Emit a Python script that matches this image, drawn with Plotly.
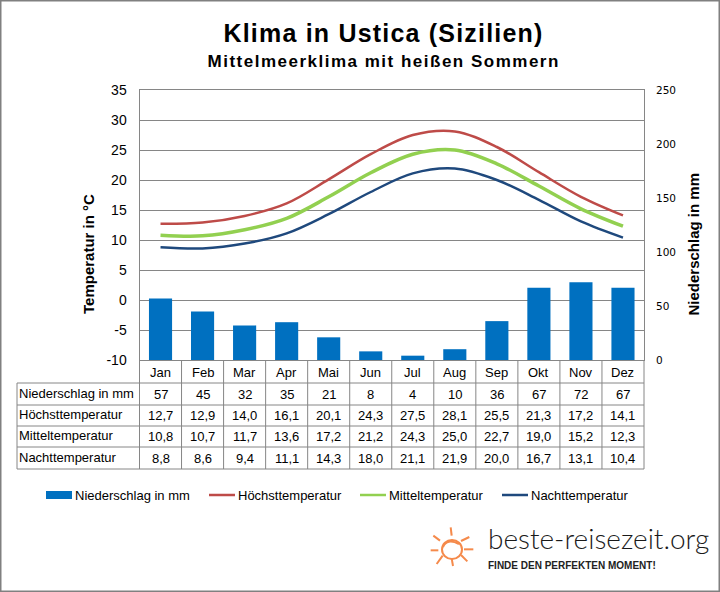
import plotly.graph_objects as go

months = ["Jan", "Feb", "Mar", "Apr", "Mai", "Jun", "Jul", "Aug", "Sep", "Okt", "Nov", "Dez"]
niederschlag = [57, 45, 32, 35, 21, 8, 4, 10, 36, 67, 72, 67]
hoechst = [12.7, 12.9, 14.0, 16.1, 20.1, 24.3, 27.5, 28.1, 25.5, 21.3, 17.2, 14.1]
mittel = [10.8, 10.7, 11.7, 13.6, 17.2, 21.2, 24.3, 25.0, 22.7, 19.0, 15.2, 12.3]
nacht = [8.8, 8.6, 9.4, 11.1, 14.3, 18.0, 21.1, 21.9, 20.0, 16.7, 13.1, 10.4]
temp_ticks = [-10, -5, 0, 5, 10, 15, 20, 25, 30, 35]
temp_labels = ["-10", "-5", "0", "5", "10", "15", "20", "25", "30", "35"]

W, H = 720, 592
FONT = "Liberation Sans"
GRAY = "#868686"
BLUE, RED, GREEN, NAVY = "#0070C0", "#BE4B48", "#92D050", "#1F497D"

# Pixelmasse der Vorlage
plot_l, plot_r, plot_t, plot_b = 139.5, 644, 90, 360
table_l = 17
row_y = [360, 383, 405, 426, 447, 469]


def px(x):
    return x / W


def py(y):
    return 1 - y / H


fig = go.Figure()
fig.add_trace(go.Bar(x=months, y=niederschlag, name="Niederschlag in mm", yaxis="y2",
                     marker=dict(color=BLUE, line=dict(width=0)), width=0.55))
fig.add_trace(go.Scatter(x=months, y=hoechst, name="Höchsttemperatur", mode="lines",
                         line=dict(color=RED, width=2.5, shape="spline", smoothing=1)))
fig.add_trace(go.Scatter(x=months, y=mittel, name="Mitteltemperatur", mode="lines",
                         line=dict(color=GREEN, width=3.5, shape="spline", smoothing=1)))
fig.add_trace(go.Scatter(x=months, y=nacht, name="Nachttemperatur", mode="lines",
                         line=dict(color=NAVY, width=2.5, shape="spline", smoothing=1)))

shapes = []
annotations = []


def seg(x0, y0, x1, y1, color=GRAY, width=1):
    shapes.append(dict(type="line", xref="paper", yref="paper", x0=px(x0), x1=px(x1),
                       y0=py(y0), y1=py(y1), line=dict(color=color, width=width)))


def label(x, y, text, size=13, bold=False, anchor="center", family=FONT, color="black", weight=None, angle=0):
    annotations.append(dict(xref="paper", yref="paper", x=px(x), y=py(y), text=text,
                            showarrow=False, xanchor=anchor, yanchor="middle", textangle=angle,
                            font=dict(family=family, size=size, color=color,
                                      weight=weight if weight else (700 if bold else 400))))


# Tabelle unter dem Diagramm
col_w = (plot_r - plot_l) / 12
for y in row_y[1:]:
    seg(table_l, y, plot_r, y)
seg(table_l, row_y[1], table_l, row_y[-1])
seg(plot_l, row_y[0], plot_l, row_y[-1])
for i in range(1, 13):
    seg(plot_l + i * col_w, row_y[0], plot_l + i * col_w, row_y[-1])

rows = [("Niederschlag in mm", [str(v) for v in niederschlag]),
        ("Höchsttemperatur", [f"{v:.1f}".replace(".", ",") for v in hoechst]),
        ("Mitteltemperatur", [f"{v:.1f}".replace(".", ",") for v in mittel]),
        ("Nachttemperatur", [f"{v:.1f}".replace(".", ",") for v in nacht])]
for i, m in enumerate(months):
    label(plot_l + (i + 0.5) * col_w, 372, m)
for r, (name, vals) in enumerate(rows):
    yc = (row_y[r + 1] + row_y[r + 2]) / 2
    label(17, yc - 1, name, anchor="left")
    for i, v in enumerate(vals):
        label(plot_l + (i + 0.5) * col_w, yc, v)

# Titel und Achsentitel
label(383.5, 33, "Klima in Ustica (Sizilien)", size=25, bold=True)
label(383.5, 62, "Mittelmeerklima mit heißen Sommern", size=17, bold=True)
label(88, 254, "Temperatur in °C", size=15, bold=True, angle=-90)
label(693, 244.5, "Niederschlag in mm", size=15, bold=True, angle=-90)

# Legende von Hand, wegen der breiten Balkenmarke
shapes.append(dict(type="rect", xref="paper", yref="paper", x0=px(46), x1=px(72), y0=py(499), y1=py(491),
                   fillcolor=BLUE, line=dict(width=0)))
label(73, 495, "Niederschlag in mm", anchor="left")
for x0, name, col in [(209, "Höchsttemperatur", RED), (360, "Mitteltemperatur", GREEN), (502, "Nachttemperatur", NAVY)]:
    seg(x0, 495, x0 + 26, 495, col, 2.5)
    label(x0 + 27, 495, name, anchor="left")

# Logo
ORANGE = "#F58A4B"
rays = [(272, 172, 275, 197), (303, 213, 328, 201), (312, 238, 340, 238), (303, 255, 322, 274),
        (275, 265, 279, 288), (248, 257, 230, 282), (235, 241, 212, 241), (240, 212, 220, 197)]
for x0, y0, x1, y1 in rays:
    seg(360 + x0 / 3, 470 + y0 / 3, 360 + x1 / 3, 470 + y1 / 3, ORANGE, 2)
shapes.append(dict(type="circle", xref="paper", yref="paper",
                   x0=px(442), x1=px(462), y0=py(559), y1=py(540),
                   line=dict(color=ORANGE, width=2)))
shapes.append(dict(type="path", xref="paper", yref="paper",
                   path=f"M {px(443)} {py(547)} Q {px(447)} {py(538)} {px(459)} {py(544)}",
                   line=dict(color=ORANGE, width=2)))
label(486, 538, "beste-reisezeit.org", size=28, anchor="left", family="Lato", color="#1a1a1a", weight=300)
label(486, 565, "FINDE DEN PERFEKTEN MOMENT!", size=10, anchor="left", bold=True, color="#222222")

# Rahmen
shapes.append(dict(type="rect", xref="paper", yref="paper", x0=0, x1=1, y0=0, y1=1,
                   line=dict(color="#808080", width=3), fillcolor="rgba(0,0,0,0)"))

fig.update_layout(
    width=W, height=H,
    margin=dict(l=0, r=0, t=0, b=0, autoexpand=False),
    paper_bgcolor="white", plot_bgcolor="white",
    font=dict(family=FONT, color="black"),
    shapes=shapes, annotations=annotations,
    showlegend=False,
    xaxis=dict(domain=[px(plot_l), px(plot_r)], showticklabels=False, showgrid=False, ticks="",
               showline=True, linecolor=GRAY, mirror=True, zeroline=False),
    yaxis=dict(domain=[py(plot_b), py(plot_t)], range=[-10, 35], tickvals=temp_ticks, ticktext=temp_labels,
               showgrid=True, gridcolor=GRAY, gridwidth=1, zeroline=False,
               showline=True, linecolor=GRAY, mirror=True, ticks="",
               tickfont=dict(size=14), ticklabelstandoff=9),
    yaxis2=dict(overlaying="y", side="right", range=[0, 250], tick0=0, dtick=50,
                showgrid=False, zeroline=False, ticks="", ticklabelstandoff=11,
                tickfont=dict(size=10.5, family="DejaVu Sans")),
)

# Seitenrand weg, Titel gesperrt wie in der Vorlage
post = """
document.body.style.margin = '0';
document.querySelectorAll('.annotation-text').forEach(function (t) {
  if (t.textContent.startsWith('Klima in')) t.style.letterSpacing = '1.2px';
  if (t.textContent.startsWith('Mittelmeerklima')) t.style.letterSpacing = '1.5px';
});
"""
fig.write_html("out.html", post_script=post, config={"displayModeBar": False})
